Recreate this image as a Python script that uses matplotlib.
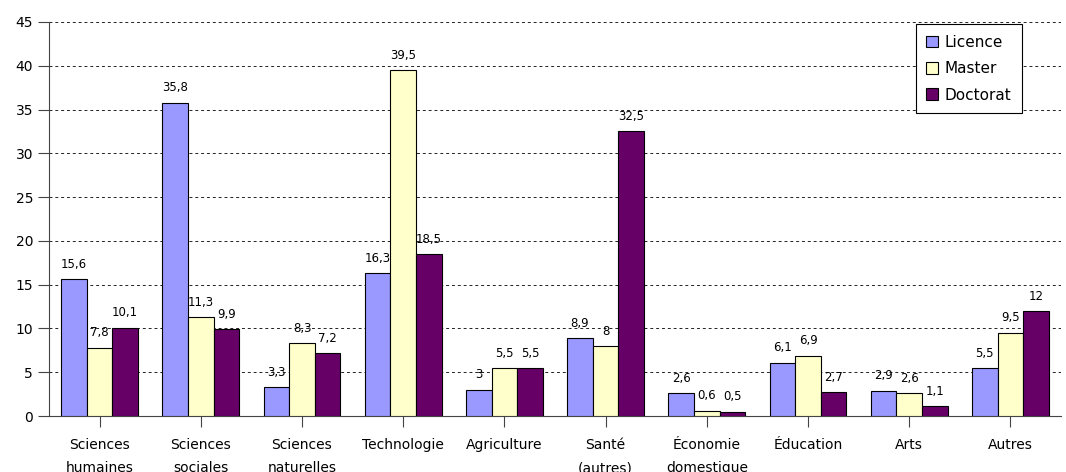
import numpy as np
import matplotlib.pyplot as plt

# Répartition des diplômés par domaine (%)
categories = ['Sciences\nhumaines', 'Sciences\nsociales', 'Sciences\nnaturelles',
              'Technologie', 'Agriculture', 'Santé\n(autres)', 'Économie\ndomestique',
              'Éducation', 'Arts', 'Autres']
licence = [15.6, 35.8, 3.3, 16.3, 3.0, 8.9, 2.6, 6.1, 2.9, 5.5]
master = [7.8, 11.3, 8.3, 39.5, 5.5, 8.0, 0.6, 6.9, 2.6, 9.5]
doctorat = [10.1, 9.9, 7.2, 18.5, 5.5, 32.5, 0.5, 2.7, 1.1, 12.0]

series = [('Licence', licence, '#9999FF'),
          ('Master', master, '#FFFFCC'),
          ('Doctorat', doctorat, '#660066')]

plt.rcParams['font.family'] = 'DejaVu Sans'

fig = plt.figure(figsize=(10.66, 4.72), dpi=100)
ax = fig.add_axes([49 / 1066, 56 / 472, 1012 / 1066, 394 / 472])

x = np.arange(len(categories))
w = 0.253

for i, (name, vals, color) in enumerate(series):
    pos = x + (i - 1) * w
    bars = ax.bar(pos, vals, w, color=color, edgecolor='black', linewidth=0.8,
                  label=name, zorder=3)
    for b, v in zip(bars, vals):
        txt = ('%g' % v).replace('.', ',')
        ax.annotate(txt, (b.get_x() + b.get_width() / 2, v),
                    xytext=(0, 6), textcoords='offset points',
                    ha='center', va='bottom', fontsize=8.5)

ax.set_xlim(-0.5, len(categories) - 0.5)
ax.set_ylim(0, 45)
ax.set_yticks(np.arange(0, 46, 5))
ax.set_xticks(x)
ax.set_xticklabels(categories, fontsize=10, linespacing=1.8)
ax.tick_params(axis='y', labelsize=10, length=8, width=0.8, color='#444444')
ax.tick_params(axis='x', length=8, width=0.8, color='#444444', pad=8)

ax.grid(axis='y', color='#222222', linestyle=(0, (3, 3)), linewidth=0.7, zorder=0)
ax.spines['top'].set_visible(False)
ax.spines['right'].set_visible(False)
ax.spines['left'].set_color('#444444')
ax.spines['bottom'].set_color('#444444')

leg = ax.legend(loc='upper right', bbox_to_anchor=(973 / 1012, 1 - 2 / 394), fontsize=11,
                fancybox=False, edgecolor='black', framealpha=1,
                handlelength=0.8, handleheight=0.8, handletextpad=0.4,
                labelspacing=0.75, borderpad=0.7, borderaxespad=0)
leg.get_frame().set_linewidth(0.8)

fig.savefig('out.png', dpi=100)
